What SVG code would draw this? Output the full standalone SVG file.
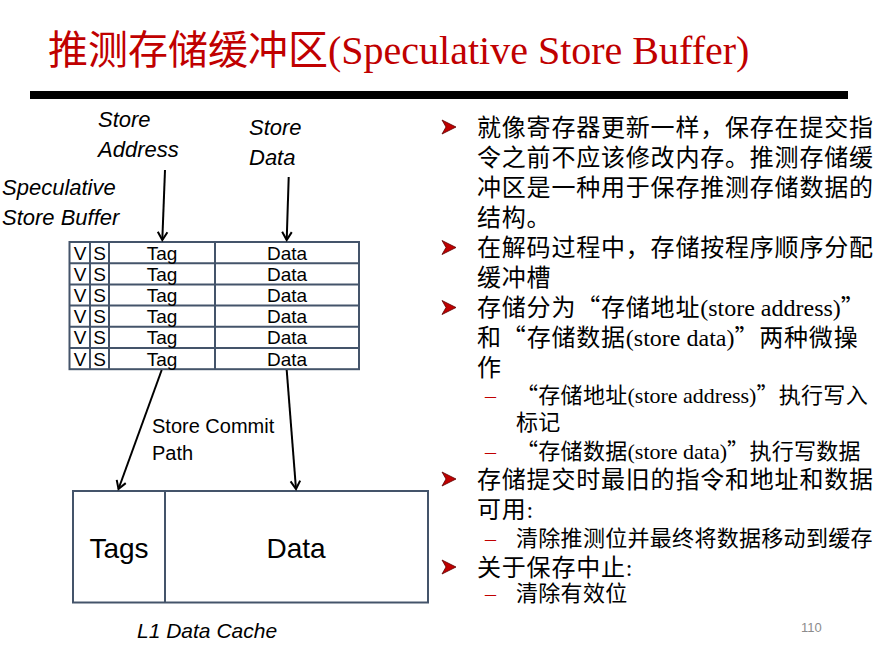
<svg xmlns="http://www.w3.org/2000/svg" xmlns:xlink="http://www.w3.org/1999/xlink" width="889" height="651" viewBox="0 0 889 651">
<style>
.box{fill:none;stroke:#44546A;stroke-width:2}
.cell{font-family:"Liberation Sans",Arial,sans-serif;font-size:19px;fill:#000;text-anchor:middle}
.lbl{font-family:"Liberation Sans",Arial,sans-serif;font-size:22px;font-style:italic;fill:#000}
.lbl2{font-family:"Liberation Sans",Arial,sans-serif;font-size:20px;fill:#000}
.big{font-family:"Liberation Sans",Arial,sans-serif;font-size:28px;fill:#000;text-anchor:middle}
.conn{stroke:#000;stroke-width:2;fill:none}
.main{font-family:"Liberation Serif","Noto Sans CJK SC",serif;font-size:24px;fill:#000;letter-spacing:0.8px}
.sub{font-family:"Liberation Serif","Noto Sans CJK SC",serif;font-size:22px;fill:#000;letter-spacing:0.3px}
.lat{letter-spacing:0}
.q{font-family:"Noto Sans CJK SC",sans-serif;font-feature-settings:"fwid"}
.dash{font-family:"Liberation Serif",serif;font-size:22px;fill:#C00000}
.bul{fill:#C00000;stroke:#5a0000;stroke-width:0.8}
</style>
<defs>
<marker id="ah" markerUnits="userSpaceOnUse" markerWidth="12" markerHeight="12" refX="0" refY="0" viewBox="-9 -6 10 12" orient="auto">
<path d="M-8,-4.8 L0,0 L-8,4.8" fill="none" stroke="#000" stroke-width="2"/>
</marker>
<polygon id="bullet" class="bul" points="-7,-7 7,0 -7,7 -3,0"/>
</defs>

<g id="title">
<text x="48" y="64" style="font-family:'Liberation Serif','Noto Sans CJK SC',serif;font-size:40px;fill:#C00000">推测存储缓冲区<tspan>(Speculative Store Buffer)</tspan></text>
<rect x="30" y="91" width="818" height="8" fill="#000"/>
</g>

<g id="label-store-address">
<text class="lbl" x="98" y="127">Store</text>
<text class="lbl" x="98" y="157">Address</text>
</g>
<g id="label-store-data">
<text class="lbl" x="249" y="135">Store</text>
<text class="lbl" x="249" y="165">Data</text>
</g>
<g id="label-ssb">
<text class="lbl" x="2" y="195">Speculative</text>
<text class="lbl" x="2" y="225">Store Buffer</text>
</g>

<g id="store-buffer">
<rect class="box" x="69.5" y="242" width="289.5" height="127.2"/>
<line class="box" x1="69.5" y1="263.2" x2="359" y2="263.2"/>
<line class="box" x1="69.5" y1="284.4" x2="359" y2="284.4"/>
<line class="box" x1="69.5" y1="305.6" x2="359" y2="305.6"/>
<line class="box" x1="69.5" y1="326.8" x2="359" y2="326.8"/>
<line class="box" x1="69.5" y1="348" x2="359" y2="348"/>
<line class="box" x1="90" y1="242" x2="90" y2="369.2"/>
<line class="box" x1="109" y1="242" x2="109" y2="369.2"/>
<line class="box" x1="215" y1="242" x2="215" y2="369.2"/>
<g class="cell">
<text x="80" y="259.5">V</text><text x="99.5" y="259.5">S</text><text x="162" y="259.5">Tag</text><text x="287" y="259.5">Data</text>
<text x="80" y="280.7">V</text><text x="99.5" y="280.7">S</text><text x="162" y="280.7">Tag</text><text x="287" y="280.7">Data</text>
<text x="80" y="301.9">V</text><text x="99.5" y="301.9">S</text><text x="162" y="301.9">Tag</text><text x="287" y="301.9">Data</text>
<text x="80" y="323.1">V</text><text x="99.5" y="323.1">S</text><text x="162" y="323.1">Tag</text><text x="287" y="323.1">Data</text>
<text x="80" y="344.3">V</text><text x="99.5" y="344.3">S</text><text x="162" y="344.3">Tag</text><text x="287" y="344.3">Data</text>
<text x="80" y="365.5">V</text><text x="99.5" y="365.5">S</text><text x="162" y="365.5">Tag</text><text x="287" y="365.5">Data</text>
</g>
</g>

<g id="label-commit">
<text class="lbl2" x="152" y="433">Store Commit</text>
<text class="lbl2" x="152" y="460">Path</text>
</g>

<g id="l1-cache">
<rect class="box" x="73" y="491" width="355" height="111.5"/>
<line class="box" x1="165" y1="491" x2="165" y2="602.5"/>
<text class="big" x="119" y="558">Tags</text>
<text class="big" x="296" y="558">Data</text>
</g>
<g id="label-l1">
<text class="lbl" x="137" y="638" style="font-size:21px">L1 Data Cache</text>
</g>

<g id="connectors">
<line class="conn" x1="165" y1="170" x2="162.3" y2="240" marker-end="url(#ah)"/>
<line class="conn" x1="288.7" y1="177" x2="286.7" y2="240" marker-end="url(#ah)"/>
<line class="conn" x1="161.7" y1="370" x2="118.5" y2="489" marker-end="url(#ah)"/>
<line class="conn" x1="286.7" y1="370" x2="296" y2="489" marker-end="url(#ah)"/>
</g>

<g id="bullets">
<use xlink:href="#bullet" href="#bullet" x="449" y="127"/>
<use xlink:href="#bullet" href="#bullet" x="449" y="247.5"/>
<use xlink:href="#bullet" href="#bullet" x="449" y="307.5"/>
<use xlink:href="#bullet" href="#bullet" x="449" y="479"/>
<use xlink:href="#bullet" href="#bullet" x="449" y="567"/>
<text class="dash" x="485" y="403">–</text>
<text class="dash" x="485" y="459">–</text>
<text class="dash" x="485" y="546">–</text>
<text class="dash" x="485" y="601">–</text>
</g>

<g id="bullet-text">
<text class="main" x="477" y="136">就像寄存器更新一样，保存在提交指</text>
<text class="main" x="477" y="166">令之前不应该修改内存。推测存储缓</text>
<text class="main" x="477" y="196">冲区是一种用于保存推测存储数据的</text>
<text class="main" x="477" y="226">结构。</text>
<text class="main" x="477" y="256">在解码过程中，存储按程序顺序分配</text>
<text class="main" x="477" y="286">缓冲槽</text>
<text class="main" x="477" y="316">存储分为<tspan class="q">“</tspan>存储地址<tspan class="lat">(store address)</tspan><tspan class="q">”</tspan></text>
<text class="main" x="477" y="346">和<tspan class="q">“</tspan>存储数据<tspan class="lat">(store data)</tspan><tspan class="q">”</tspan>两种微操</text>
<text class="main" x="477" y="376">作</text>
<text class="sub" x="516" y="403"><tspan class="q">“</tspan>存储地址<tspan class="lat">(store address)</tspan><tspan class="q">”</tspan>执行写入</text>
<text class="sub" x="516" y="430">标记</text>
<text class="sub" x="516" y="459"><tspan class="q">“</tspan>存储数据<tspan class="lat">(store data)</tspan><tspan class="q">”</tspan>执行写数据</text>
<text class="main" x="477" y="488">存储提交时最旧的指令和地址和数据</text>
<text class="main" x="477" y="518">可用:</text>
<text class="sub" x="516" y="546">清除推测位并最终将数据移动到缓存</text>
<text class="main" x="477" y="576">关于保存中止:</text>
<text class="sub" x="516" y="601">清除有效位</text>
</g>

<g id="page-number">
<text x="801" y="632" style="font-family:'Liberation Sans',Arial,sans-serif;font-size:13px;fill:#8c8c8c">110</text>
</g>
</svg>
